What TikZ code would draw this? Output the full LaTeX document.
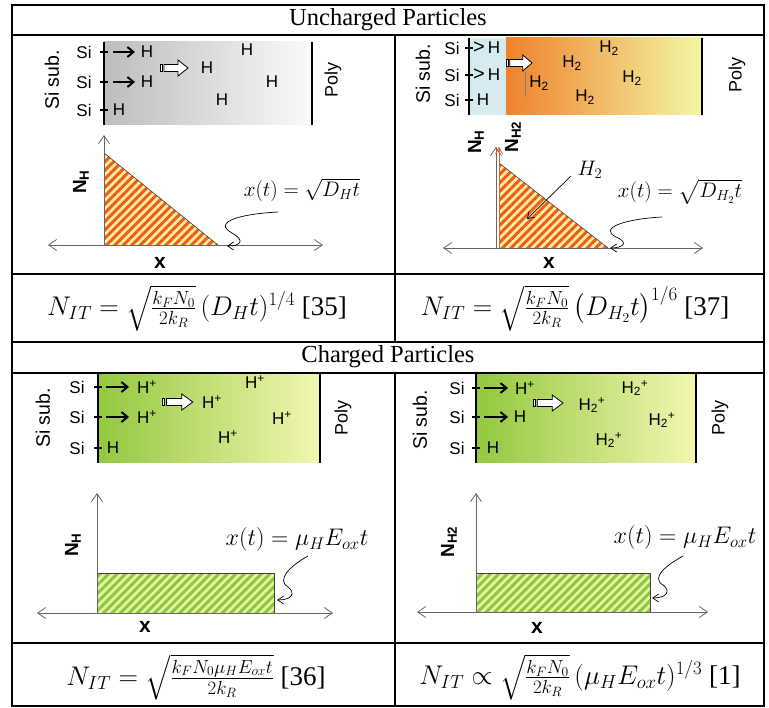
\RequirePackage{fix-cm}
\documentclass[tikz,border=0pt]{standalone}
\usepackage{amsmath}
\usepackage{fontspec}
\setmainfont{Liberation Serif}
\setsansfont{Liberation Sans}
\usetikzlibrary{arrows.meta,patterns.meta}
\definecolor{hatchO}{HTML}{F05A24}
\definecolor{hatchY}{HTML}{FAF296}
\definecolor{hatchG}{HTML}{8DC63F}
\definecolor{hatchLG}{HTML}{E8F3A0}
\definecolor{shGrayL}{HTML}{BDBDBD}
\definecolor{shGrayR}{HTML}{FAFAFA}
\definecolor{shOrL}{HTML}{F0822C}
\definecolor{shOrM}{HTML}{F7B86E}
\definecolor{shOrR}{HTML}{F3F7A6}
\definecolor{shGrL}{HTML}{93C83E}
\definecolor{shGrM}{HTML}{CDE47F}
\definecolor{shGrR}{HTML}{F2F7B2}
\definecolor{siBlue}{HTML}{D5EBEF}
\definecolor{axGray}{HTML}{666666}
\tikzset{
  tbl/.style={line width=1.9pt},
  wall/.style={line width=2.4pt},
  tick/.style={line width=1.2pt},
  lab/.style={font=\sffamily\fontsize{17}{17}\selectfont, inner sep=0pt},
  sublab/.style={font=\sffamily\fontsize{19.5}{20}\selectfont, inner sep=0pt, rotate=90},
  polylab/.style={font=\sffamily\fontsize{18}{18}\selectfont, inner sep=0pt, rotate=90},
  gtlab/.style={font=\sffamily\fontsize{20}{20}\selectfont, inner sep=0pt},
  hdr/.style={font=\fontsize{24.5}{25}\selectfont, inner sep=0pt},
  axlab/.style={font=\sffamily\bfseries\fontsize{19}{19}\selectfont, inner sep=0pt},
  xlab/.style={font=\sffamily\bfseries\fontsize{21}{21}\selectfont, inner sep=0pt},
  ax/.style={draw=axGray, line width=0.8pt},
  axtip/.style={ax, -{Straight Barb[length=8pt,width=11pt]}},
  axboth/.style={ax, {Straight Barb[length=8pt,width=11pt]}-{Straight Barb[length=8pt,width=11pt]}},
  siarrow/.style={line width=2pt, -{Straight Barb[length=6pt,width=10pt]}},
  squig/.style={line width=0.7pt, -{Straight Barb[length=6pt,width=8pt]}},
  fml/.style={font=\fontsize{21}{21}\selectfont, inner sep=0pt},
  fmlb/.style={font=\fontsize{24}{24}\selectfont, inner sep=0pt},
  eqn/.style={font=\fontsize{27}{30}\selectfont, inner sep=0pt},
  hatchorange/.style={fill=hatchY, postaction={pattern={Lines[angle=45,distance=6pt,line width=3pt]}, pattern color=hatchO}},
  hatchgreen/.style={fill=hatchLG, postaction={pattern={Lines[angle=45,distance=6pt,line width=3pt]}, pattern color=hatchG}},
}
\newcommand{\hollowarr}[3]{%
  \begin{scope}[shift={(#1,#2)}, xscale=#3]
    \draw[line width=0.8pt, fill=white, line join=miter] (4,-3.5) -- (18,-3.5) -- (18,-8) -- (28,0) -- (18,8) -- (18,3.5) -- (4,3.5) -- cycle;
    \draw[line width=0.8pt, fill=white] (0,-3.5) rectangle (2.5,3.5);
  \end{scope}}
\begin{document}
\begin{tikzpicture}[x=1pt,y=-1pt]
\useasboundingbox (0,0) rectangle (769,708);
\fill[white] (0,0) rectangle (769,708);

% ================= top-left panel =================
\shade[left color=shGrayL, right color=shGrayR] (104,42) rectangle (312,125);
\draw[wall] (104,42) -- (104,125);
\draw[wall] (312,42) -- (312,125);
\foreach \yy in {52,82,110} \draw[tick] (100,\yy) -- (108,\yy);
\node[sublab] (subA) at (52,80) {Si sub.};
\node[lab] (siA1) at (84,52) {Si};
\node[lab] (siA2) at (84,82) {Si};
\node[lab] (siA3) at (84,110) {Si};
\node[lab] (hA1) at (147,52) {H};
\node[lab] (hA2) at (147,82) {H};
\node[lab] (hA3) at (119,110) {H};
\coordinate (aA1s) at (113,52); \coordinate (aA1e) at (135,52);
\coordinate (aA2s) at (113,82); \coordinate (aA2e) at (135,82);
\draw[siarrow] (aA1s) -- (aA1e);
\draw[siarrow] (aA2s) -- (aA2e);
\hollowarr{160}{68}{1}
\node[lab] (hA4) at (207,68) {H};
\node[lab] (hA5) at (247,50) {H};
\node[lab] (hA6) at (272,82) {H};
\node[lab] (hA7) at (222,100) {H};
\node[polylab] (polyA) at (333,80) {Poly};

% plot top-left
\path[hatchorange] (104,153) -- (104,245) -- (218,245) -- cycle;
\draw[line width=0.6pt, black!75] (104,153) -- (218,245);
\coordinate (xA0) at (48,245); \coordinate (xA1) at (323,245);
\coordinate (yA0) at (104,245); \coordinate (yA1) at (104,135);
\draw[axboth] (xA0) -- (xA1);
\draw[axtip] (yA0) -- (yA1);
\node[axlab, rotate=90] (nA) at (81,182) {N\textsubscript{H}};
\node[xlab] (xlA) at (160,263) {x};
\node[fml] (fA) at (302,190) {$x(t) = \sqrt{D_H t}$};
\coordinate (sqA0) at (278,212); \coordinate (sqA1) at (227,246);
\draw[squig] (sqA0) .. controls (240,214) and (212,222) .. (232,233) .. controls (246,241) and (240,246) .. (sqA1);

% ================= top-right panel =================
\fill[siBlue] (469,38) rectangle (506,115);
\shade[left color=shOrL, middle color=shOrM, right color=shOrR] (506,38) rectangle (702,115);
\draw[wall] (469,38) -- (469,115);
\draw[wall] (702,38) -- (702,115);
\foreach \yy in {48,75,100} \draw[tick] (465,\yy) -- (473,\yy);
\node[sublab] (subB) at (423,74) {Si sub.};
\node[lab] (siB1) at (452,48) {Si};
\node[lab] (siB2) at (452,75) {Si};
\node[lab] (siB3) at (452,100) {Si};
\node[gtlab] (gtB1) at (479,48) {>};
\node[gtlab] (gtB2) at (479,75) {>};
\node[lab] (hB1) at (494,48) {H};
\node[lab] (hB2) at (494,75) {H};
\node[lab] (hB3) at (483,100) {H};
\hollowarr{506}{63}{0.93}
\draw[line width=0.8pt, gray] (525,72) -- (525,97);
\node[lab] (h2B1) at (609,48) {H\textsubscript{2}};
\node[lab] (h2B2) at (572,63) {H\textsubscript{2}};
\node[lab] (h2B3) at (539,83) {H\textsubscript{2}};
\node[lab] (h2B4) at (632,78) {H\textsubscript{2}};
\node[lab] (h2B5) at (585,97) {H\textsubscript{2}};
\node[polylab] (polyB) at (737,75) {Poly};

% plot top-right
\path[hatchorange] (499,163) -- (499,248) -- (608,248) -- cycle;
\draw[line width=0.6pt, black!75] (499,163) -- (608,248);
\coordinate (xB0) at (443,248); \coordinate (xB1) at (703,248);
\coordinate (yB0) at (496,248); \coordinate (yB1) at (496,147);
\coordinate (yBo0) at (499,248); \coordinate (yBo1) at (499,147);
\draw[axboth] (xB0) -- (xB1);
\draw[axtip] (yB0) -- (yB1);
\draw[line width=0.8pt, hatchO, -{Straight Barb[length=6pt,width=7pt]}] (yBo0) -- (yBo1);
\node[axlab, rotate=90] (nB1) at (476,142) {N\textsubscript{H}};
\node[axlab, rotate=90] (nB2) at (513,137) {N\textsubscript{H2}};
\node[xlab] (xlB) at (549,263) {x};
\node[fml] (hTwo) at (590,170) {$H_2$};
\coordinate (arB0) at (571,176); \coordinate (arB1) at (527,219);
\draw[line width=0.7pt, -{Straight Barb[length=6pt,width=8pt]}] (arB0) -- (arB1);
\node[fml] (fB) at (680,192) {$x(t) = \sqrt{D_{H_2} t}$};
\coordinate (sqB0) at (662,217); \coordinate (sqB1) at (610,248);
\draw[squig] (sqB0) .. controls (625,219) and (598,228) .. (616,237) .. controls (630,243) and (622,248) .. (sqB1);

% equations row 1
\node[eqn] (eqA) at (197,308) {$N_{IT} = \sqrt{\tfrac{k_F N_0}{2k_R}}\,(D_H t)^{1/4}$ [35]};
\node[eqn] (eqB) at (575,308) {$N_{IT} = \sqrt{\tfrac{k_F N_0}{2k_R}}\,\bigl(D_{H_2} t\bigr)^{1/6}$ [37]};

% ================= bottom-left panel =================
\shade[left color=shGrL, middle color=shGrM, right color=shGrR] (98,373) rectangle (320,463);
\draw[wall] (98,373) -- (98,463);
\draw[wall] (320,373) -- (320,463);
\foreach \yy in {387,417,448} \draw[tick] (94,\yy) -- (102,\yy);
\node[sublab] (subC) at (43,418) {Si sub.};
\node[lab] (siC1) at (77,387) {Si};
\node[lab] (siC2) at (77,417) {Si};
\node[lab] (siC3) at (77,448) {Si};
\coordinate (aC1s) at (106,387); \coordinate (aC1e) at (129,387);
\coordinate (aC2s) at (106,417); \coordinate (aC2e) at (129,417);
\draw[siarrow] (aC1s) -- (aC1e);
\draw[siarrow] (aC2s) -- (aC2e);
\node[lab] (hC1) at (147,387) {H\textsuperscript{+}};
\node[lab] (hC2) at (147,417) {H\textsuperscript{+}};
\node[lab] (hC3) at (113,448) {H};
\hollowarr{162}{402}{1.1}
\node[lab] (hC4) at (212,402) {H\textsuperscript{+}};
\node[lab] (hC5) at (255,382) {H\textsuperscript{+}};
\node[lab] (hC6) at (282,418) {H\textsuperscript{+}};
\node[lab] (hC7) at (228,437) {H\textsuperscript{+}};
\node[polylab] (polyC) at (343,418) {Poly};

% plot bottom-left
\path[hatchgreen] (97,573) rectangle (274,613);
\draw[line width=0.6pt, black!75] (97,573) rectangle (274,613);
\coordinate (xC0) at (37,613); \coordinate (xC1) at (333,613);
\coordinate (yC0) at (97,613); \coordinate (yC1) at (97,493);
\draw[axboth] (xC0) -- (xC1);
\draw[axtip] (yC0) -- (yC1);
\node[axlab, rotate=90] (nC) at (73,545) {N\textsubscript{H}};
\node[xlab] (xlC) at (145,627) {x};
\node[fmlb] (fC) at (297,540) {$x(t) = \mu_H E_{ox} t$};
\coordinate (sqC0) at (308,556); \coordinate (sqC1) at (277,600);
\draw[squig] (sqC0) .. controls (290,566) and (276,580) .. (288,587) .. controls (296,593) and (292,600) .. (sqC1);

% ================= bottom-right panel =================
\shade[left color=shGrL, middle color=shGrM, right color=shGrR] (476,373) rectangle (696,463);
\draw[wall] (476,373) -- (476,463);
\draw[wall] (696,373) -- (696,463);
\foreach \yy in {388,417,448} \draw[tick] (472,\yy) -- (480,\yy);
\node[sublab] (subD) at (420,420) {Si sub.};
\node[lab] (siD1) at (457,388) {Si};
\node[lab] (siD2) at (457,417) {Si};
\node[lab] (siD3) at (457,448) {Si};
\coordinate (aD1s) at (484,388); \coordinate (aD1e) at (508,388);
\coordinate (aD2s) at (484,417); \coordinate (aD2e) at (508,417);
\draw[siarrow] (aD1s) -- (aD1e);
\draw[siarrow] (aD2s) -- (aD2e);
\node[lab] (hD1) at (525,388) {H\textsuperscript{+}};
\node[lab] (hD2) at (520,417) {H};
\node[lab] (hD3) at (493,448) {H};
\hollowarr{533}{403}{1.07}
\node[lab] (h2D1) at (592,405) {H\textsubscript{2}\textsuperscript{+}};
\node[lab] (h2D2) at (635,388) {H\textsubscript{2}\textsuperscript{+}};
\node[lab] (h2D3) at (662,420) {H\textsubscript{2}\textsuperscript{+}};
\node[lab] (h2D4) at (609,440) {H\textsubscript{2}\textsuperscript{+}};
\node[polylab] (polyD) at (720,418) {Poly};

% plot bottom-right
\path[hatchgreen] (476,573) rectangle (650,612);
\draw[line width=0.6pt, black!75] (476,573) rectangle (650,612);
\coordinate (xD0) at (417,612); \coordinate (xD1) at (708,612);
\coordinate (yD0) at (476,612); \coordinate (yD1) at (476,493);
\draw[axboth] (xD0) -- (xD1);
\draw[axtip] (yD0) -- (yD1);
\node[axlab, rotate=90] (nD) at (449,542) {N\textsubscript{H2}};
\node[xlab] (xlD) at (537,628) {x};
\node[fmlb] (fD) at (685,538) {$x(t) = \mu_H E_{ox} t$};
\coordinate (sqD0) at (683,556); \coordinate (sqD1) at (652,598);
\draw[squig] (sqD0) .. controls (665,566) and (651,578) .. (663,585) .. controls (671,591) and (667,598) .. (sqD1);

% equations row 2
\node[eqn] (eqC) at (196,677) {$N_{IT} = \sqrt{\tfrac{k_F N_0 \mu_H E_{ox} t}{2k_R}}$ [36]};
\node[eqn] (eqD) at (580,677) {$N_{IT} \propto \sqrt{\tfrac{k_F N_0}{2k_R}}\,(\mu_H E_{ox} t)^{1/3}$ [1]};

% ================= table =================
\node[hdr] (hdrU) at (388,20) {Uncharged Particles};
\node[hdr] (hdrC) at (388,357) {Charged Particles};
\draw[tbl] (12,5) rectangle (764,706);
\foreach \yy in {35,274,342,373,643} \draw[tbl] (12,\yy) -- (764,\yy);
\draw[tbl] (395,35) -- (395,342);
\draw[tbl] (395,373) -- (395,706);
\end{tikzpicture}
\end{document}
